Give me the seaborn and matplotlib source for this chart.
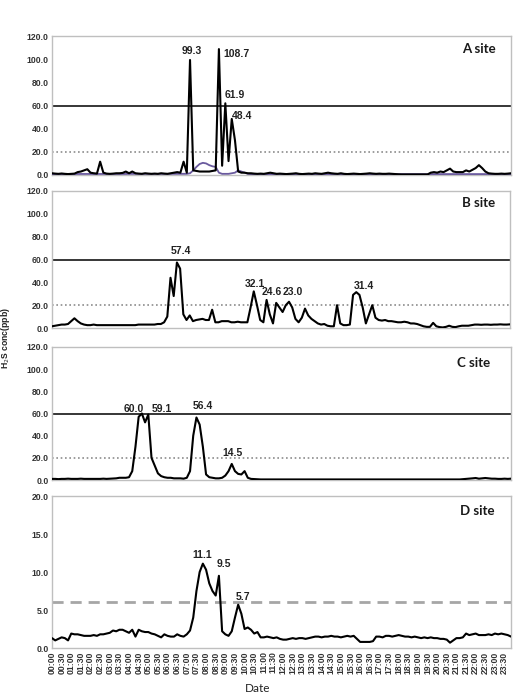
import numpy as np
import pandas as pd
import matplotlib
matplotlib.use("Agg")
import matplotlib.pyplot as plt
import seaborn as sns

# ---------------- data (10-minute values, 00:00 .. 23:50) ----------------
minutes = list(range(0, 1440, 10))
tick_minutes = list(range(0, 1440, 30))
tick_labels = [f"{m // 60:02d}:{m % 60:02d}" for m in tick_minutes]

site_a = [
    1.5, 1.2, 1.0, 1.3, 1.0, 0.8, 1.0, 1.2, 2.5, 3.0, 4.0, 5.0,
    2.0, 1.5, 1.2, 11.5, 2.0, 1.2, 1.0, 1.2, 1.5, 1.5, 1.8, 3.0,
    1.5, 3.0, 1.5, 1.2, 1.0, 1.5, 1.2, 1.0, 1.2, 1.0, 1.5, 1.2,
    1.0, 1.5, 2.0, 2.5, 2.0, 11.5, 2.0, 99.3, 4.0, 3.5, 3.0, 3.0,
    3.0, 3.0, 3.5, 4.0, 108.7, 8.0, 61.9, 12.0, 48.4, 30.0, 3.0, 2.0,
    2.0, 1.5, 1.5, 1.2, 1.0, 1.2, 1.0, 1.5, 2.0, 1.5, 1.0, 1.2,
    1.0, 0.8, 1.0, 1.2, 1.5, 1.0, 0.8, 1.0, 1.2, 1.0, 1.5, 1.2,
    1.0, 1.5, 2.0, 1.5, 1.2, 1.0, 1.5, 1.0, 0.8, 1.0, 1.2, 1.0,
    0.8, 1.0, 1.2, 1.5, 1.2, 1.0, 1.2, 1.0, 1.0, 1.2, 1.0, 0.8,
    0.6, 0.5, 0.5, 0.5, 0.5, 0.5, 0.5, 0.5, 0.5, 0.5, 2.0, 2.5,
    2.0, 3.0, 2.5, 4.0, 5.5, 3.0, 2.5, 2.5, 2.5, 4.0, 3.0, 4.5,
    6.0, 8.5, 6.0, 3.0, 1.5, 1.2, 1.0, 1.0, 1.2, 1.0, 1.2, 1.5,
]

site_a2 = [
    0.8, 0.8, 0.8, 0.8, 0.8, 0.8, 0.8, 0.8, 0.9, 0.9, 0.9, 0.9,
    0.9, 0.9, 0.9, 0.9, 0.9, 0.9, 0.9, 0.9, 0.9, 0.9, 0.9, 0.9,
    1.0, 1.0, 1.0, 1.0, 1.0, 1.0, 1.0, 1.0, 1.0, 1.0, 1.0, 1.0,
    1.0, 1.0, 1.0, 1.0, 1.0, 1.0, 1.0, 1.5, 4.0, 7.0, 9.5, 10.5,
    10.0, 8.5, 7.5, 7.0, 2.0, 1.0, 1.0, 1.0, 1.5, 2.0, 4.0, 3.0,
    2.0, 1.0, 0.8, 0.8, 0.8, 0.8, 0.8, 0.8, 0.8, 0.8, 0.8, 0.8,
    0.8, 0.8, 0.8, 0.8, 0.8, 0.8, 0.8, 0.8, 0.8, 0.8, 0.8, 0.8,
    0.8, 0.8, 0.8, 0.8, 0.8, 0.8, 0.8, 0.8, 0.8, 0.8, 0.8, 0.8,
    0.8, 0.8, 0.8, 0.8, 0.8, 0.8, 0.8, 0.8, 0.8, 0.8, 0.8, 0.8,
    0.8, 0.8, 0.8, 0.8, 0.8, 0.8, 0.8, 0.8, 0.8, 0.8, 0.8, 0.8,
    0.8, 0.8, 0.8, 0.8, 0.8, 0.8, 0.8, 0.8, 0.8, 0.8, 0.8, 0.8,
    0.8, 0.8, 0.8, 0.8, 0.8, 0.8, 0.8, 0.8, 0.8, 0.8, 0.8, 0.8,
]

site_b = [
    1.5, 2.0, 2.5, 3.0, 3.0, 3.5, 6.0, 8.5, 6.0, 4.0, 3.0, 2.5,
    2.5, 3.0, 2.5, 2.5, 2.5, 2.5, 2.5, 2.5, 2.5, 2.5, 2.5, 2.5,
    2.5, 2.5, 2.5, 3.0, 3.0, 3.0, 3.0, 3.0, 3.0, 3.5, 3.5, 5.0,
    10.0, 44.0, 28.0, 57.4, 52.0, 12.0, 7.0, 11.0, 6.0, 7.0, 7.5, 8.0,
    7.0, 7.0, 16.0, 5.0, 5.0, 6.0, 6.0, 6.0, 5.0, 5.0, 5.5, 5.0,
    5.0, 5.0, 18.0, 32.1, 20.0, 7.0, 5.0, 24.6, 12.0, 4.0, 22.0, 18.0,
    14.0, 20.0, 23.0, 18.0, 8.0, 5.0, 9.0, 17.0, 11.0, 8.0, 6.0, 4.0,
    3.0, 3.5, 2.0, 1.5, 1.5, 20.0, 4.0, 2.5, 2.5, 3.0, 29.0, 31.4,
    29.0, 18.0, 4.0, 12.0, 20.0, 9.0, 7.0, 6.5, 7.0, 6.0, 6.0, 5.5,
    5.0, 5.0, 5.5, 5.0, 4.0, 4.0, 3.5, 2.5, 1.5, 1.0, 1.0, 4.5,
    1.5, 0.8, 0.5, 1.0, 2.0, 1.0, 0.8, 1.5, 2.0, 2.0, 2.0, 2.5,
    3.0, 3.0, 2.8, 3.0, 3.0, 2.8, 3.0, 3.0, 3.2, 3.0, 3.0, 3.2,
]

site_c = [
    1.0, 1.0, 0.8, 1.0, 1.0, 1.2, 1.0, 1.0, 1.0, 1.2, 1.0, 1.0,
    1.0, 1.0, 1.0, 1.0, 1.2, 1.0, 1.2, 1.5, 1.5, 2.0, 2.0, 2.0,
    2.5, 8.0, 30.0, 57.0, 60.0, 52.0, 59.1, 20.0, 13.0, 6.0, 3.5, 2.5,
    2.0, 2.0, 1.5, 1.5, 1.5, 1.2, 2.0, 8.0, 40.0, 56.4, 50.0, 30.0,
    5.0, 2.5, 2.0, 1.5, 1.5, 2.0, 4.0, 8.0, 14.5, 8.0, 5.5, 5.0,
    8.0, 2.0, 1.0, 0.8, 0.6, 0.5, 0.5, 0.5, 0.6, 0.5, 0.5, 0.5,
    0.5, 0.6, 0.5, 0.5, 0.5, 0.6, 0.5, 0.5, 0.5, 0.5, 0.6, 0.5,
    0.5, 0.5, 0.6, 0.5, 0.5, 0.5, 0.5, 0.6, 0.5, 0.5, 0.5, 0.5,
    0.6, 0.5, 0.5, 0.5, 0.5, 0.6, 0.5, 0.5, 0.5, 0.5, 0.5, 0.6,
    0.5, 0.5, 0.5, 0.6, 0.5, 0.5, 0.5, 0.5, 0.6, 0.5, 0.5, 0.5,
    0.5, 0.6, 0.5, 0.5, 0.5, 0.5, 0.6, 0.5, 0.8, 1.0, 1.2, 1.5,
    1.8, 1.2, 1.5, 1.8, 1.5, 1.2, 1.2, 1.0, 1.0, 1.2, 1.0, 1.2,
]

site_d = [
    1.3, 1.0, 1.2, 1.4, 1.3, 1.0, 1.9, 1.8, 1.8, 1.7, 1.6, 1.6,
    1.6, 1.7, 1.6, 1.8, 1.8, 1.9, 2.0, 2.3, 2.2, 2.4, 2.4, 2.2,
    2.0, 2.4, 1.5, 2.4, 2.2, 2.1, 2.1, 1.9, 1.8, 1.6, 1.4, 1.8,
    1.6, 1.5, 1.5, 1.8, 1.6, 1.5, 1.8, 2.3, 4.0, 7.5, 10.0, 11.1,
    10.3, 8.5, 7.5, 6.9, 9.5, 2.2, 1.8, 1.6, 2.2, 4.0, 5.7, 4.5,
    2.5, 2.7, 2.4, 1.9, 2.1, 1.4, 1.4, 1.5, 1.4, 1.3, 1.4, 1.2,
    1.1, 1.1, 1.2, 1.3, 1.2, 1.3, 1.3, 1.2, 1.3, 1.4, 1.5, 1.5,
    1.4, 1.5, 1.5, 1.6, 1.5, 1.5, 1.4, 1.5, 1.6, 1.5, 1.6, 1.2,
    0.8, 0.8, 0.8, 0.8, 0.9, 1.5, 1.5, 1.4, 1.6, 1.6, 1.5, 1.6,
    1.7, 1.6, 1.5, 1.5, 1.4, 1.5, 1.4, 1.3, 1.4, 1.3, 1.4, 1.3,
    1.3, 1.2, 1.2, 1.1, 0.7, 1.0, 1.3, 1.3, 1.4, 1.9, 1.7, 1.8,
    1.9, 1.7, 1.7, 1.7, 1.8, 1.7, 1.9, 1.8, 1.9, 1.8, 1.7, 1.5,
]

site_names = ["A site", "B site", "C site", "D site"]
upper_limits = [60.0, 60.0, 60.0, None]
guide_levels = [20.0, 20.0, 20.0, 6.0]

# labelled peaks: (index, ha, dx_pt, dy_pt)
peaks_a = [(43, "center", 1.5, 6.5), (52, "left", 3.0, -3.5), (54, "left", -0.5, 6.0), (56, "left", 0.0, 2.2)]
peaks_b = [(39, "center", 3.0, 8.3), (63, "center", 0.5, 5.0), (67, "center", 4.0, 5.5), (74, "center", 3.0, 6.8), (95, "center", 5.5, 4.5)]
peaks_c = [(28, "right", 1.5, 3.6), (30, "left", 2.5, 4.3), (45, "center", 4.3, 8.6), (56, "center", 0.6, 7.6)]
peaks_d = [(47, "center", -0.6, 6.2), (52, "center", 3.6, 8.3), (58, "center", 3.4, 5.3)]

# ---------------- style ----------------
sns.set_style("white")
plt.rcParams["font.family"] = ["Liberation Sans", "DejaVu Sans"]

W, H = 517, 697
fig = plt.figure(figsize=(W / 100, H / 100), dpi=100)

def frac_box(left, top, right, bottom):
    return [left / W, (H - bottom) / H, (right - left) / W, (bottom - top) / H]

boxes = [
    frac_box(52, 36, 511, 175),
    frac_box(52, 191, 510, 328),
    frac_box(52, 347, 511, 480),
    frac_box(52, 496, 511, 648),
]
site_series = [site_a, site_b, site_c, site_d]
site_peaks = [peaks_a, peaks_b, peaks_c, peaks_d]
site_label_pos = [(0.967, 0.906), (0.968, 0.91), (0.955, 0.882), (0.965, 0.903)]

for k in range(4):
    ax = fig.add_axes(boxes[k])
    df = pd.DataFrame({"minute": minutes, "conc": site_series[k]})
    if k == 0:
        df2 = pd.DataFrame({"minute": minutes, "conc": site_a2})
        sns.lineplot(data=df2, x="minute", y="conc", ax=ax, color="#6A5A9E", lw=1.3, zorder=3)
    sns.lineplot(data=df, x="minute", y="conc", ax=ax, color="black", lw=1.5, zorder=4)

    if upper_limits[k] is not None:
        ax.axhline(upper_limits[k], color="black", lw=1.1, zorder=2)
        ax.axhline(guide_levels[k], color="#8C8C8C", lw=1.2, ls=(0, (1, 1.6)), zorder=2)
        ax.set_ylim(0, 120)
        ax.set_yticks([0, 20, 40, 60, 80, 100, 120])
    else:
        ax.axhline(guide_levels[k], color="#A6A6A6", lw=2.0, ls=(0, (4, 2.5)), zorder=2)
        ax.set_ylim(0, 20)
        ax.set_yticks([0, 5, 10, 15, 20])
    ax.set_yticklabels([f"{v:.1f}" for v in ax.get_yticks()], fontsize=6.2, fontweight="bold", color="#333333")

    ax.set_xlim(0, 1430)
    ax.set_xticks(tick_minutes)
    if k == 3:
        ax.set_xticklabels(tick_labels, rotation=90, fontsize=6.2, fontweight="bold", color="#333333")
    else:
        ax.set_xticklabels([])
    ax.set_xlabel("")
    ax.set_ylabel("")
    ax.tick_params(axis="both", length=0, pad=2.5)

    for s in ax.spines.values():
        s.set_color("#BFBFBF")
        s.set_linewidth(1.0)

    ax.text(site_label_pos[k][0], site_label_pos[k][1], site_names[k], transform=ax.transAxes,
            ha="right", va="center", fontsize=9.5, fontweight="bold",
            family=["Lato", "DejaVu Sans"], color="#1a1a1a")

    vals = site_series[k]
    for idx, ha, dx, dy in site_peaks[k]:
        ax.annotate(f"{vals[idx]:.1f}", xy=(minutes[idx], vals[idx]), xytext=(dx, dy),
                    textcoords="offset points", ha=ha, va="center",
                    fontsize=7.5, fontweight="bold", color="#222222", zorder=5)

fig.text(258 / W, 1 - 688 / H, "Date", ha="center", va="center",
         fontsize=8.5, family=["Lato", "DejaVu Sans"], color="#222222")
fig.text(6 / W, 1 - 338 / H, "H$_2$S conc(ppb)", rotation=90, ha="center", va="center",
         fontsize=6.2, fontweight="bold", color="#222222")

fig.savefig("out.png", dpi=100)
